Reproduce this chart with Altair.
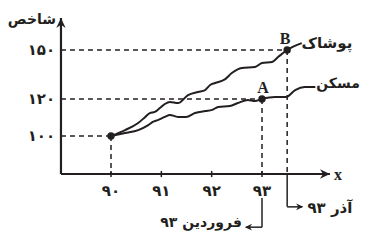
import altair as alt
import pandas as pd

# ---- scale anchors (data value -> position inside the chart) ----
X_DOMAIN = [90, 93]
X_RANGE = [103, 254]
Y_DOMAIN = [50, 80, 100, 120, 150, 170]
Y_RANGE = [224, 166, 128, 91, 42, 10]

INK = "#231f20"
FA_FONT = "DejaVu Sans"
LAT_FONT = "Liberation Serif"

# ---- series ----
clothing_x = [90.00, 90.28, 90.54, 90.68, 90.77, 90.87, 90.97, 91.07, 91.17, 91.33,
              91.53, 91.73, 91.87, 91.97, 92.07, 92.27, 92.40, 92.60, 92.86, 93.00,
              93.20, 93.32, 93.50, 93.79]
clothing_y = [100.0, 103.2, 107.0, 110.3, 112.4, 113.0, 115.1, 117.3, 118.4, 117.8,
              122.4, 124.3, 125.5, 128.6, 129.8, 132.2, 135.9, 139.0, 139.6, 142.0,
              142.7, 145.7, 150.0, 154.3]

housing_x = [90.00, 90.28, 90.54, 90.74, 90.83, 90.93, 91.07, 91.17, 91.33, 91.49,
             91.67, 91.87, 92.01, 92.13, 92.36, 92.52, 92.72, 92.86, 93.00, 93.26,
             93.48, 93.66, 93.85, 94.06]
housing_y = [100.0, 101.6, 103.2, 105.9, 107.6, 108.6, 110.3, 111.4, 110.3, 110.3,
             112.4, 113.5, 114.1, 115.7, 116.2, 117.8, 119.5, 118.9, 120.0, 121.2,
             121.2, 125.5, 127.3, 127.3]

x_ticks = [90, 91, 92, 93]
x_tick_labels = ["۹۰", "۹۱", "۹۲", "۹۳"]
y_ticks = [100, 120, 150]
y_tick_labels = ["۱۰۰", "۱۲۰", "۱۵۰"]

dot_x = [90, 93, 93.5]
dot_y = [100, 120, 150]

# axis extents
X_LEFT, X_RIGHT = 89.006, 94.35
Y_BASE, Y_TOP = 80, 170

xs = alt.Scale(domain=X_DOMAIN, range=X_RANGE, nice=False, zero=False)
ys = alt.Scale(domain=Y_DOMAIN, range=Y_RANGE, nice=False, zero=False)


def X(f="x"):
    return alt.X(f"{f}:Q", scale=xs, axis=None)


def Y(f="y"):
    return alt.Y(f"{f}:Q", scale=ys, axis=None)


# curves
curve_df = pd.DataFrame(
    [{"s": "c", "i": i, "x": a, "y": b} for i, (a, b) in enumerate(zip(clothing_x, clothing_y))]
    + [{"s": "h", "i": i, "x": a, "y": b} for i, (a, b) in enumerate(zip(housing_x, housing_y))]
)
curves = alt.Chart(curve_df).mark_line(
    interpolate="monotone", strokeWidth=2, color=INK
).encode(x=X(), y=Y(), detail="s:N", order="i:Q")

# dashed guide lines
dash_df = pd.DataFrame({
    "x": [X_LEFT, X_LEFT, X_LEFT, 90, 93, 93.5],
    "x2": [93.5, 93, 90, 90, 93, 93.5],
    "y": [150, 120, 100, 100, 120, 150],
    "y2": [150, 120, 100, Y_BASE, Y_BASE, Y_BASE],
})
dashes = alt.Chart(dash_df).mark_rule(
    strokeDash=[5, 4], strokeWidth=1.5, color=INK
).encode(x=X(), x2="x2:Q", y=Y(), y2="y2:Q")

# solid lines: axes and callout leaders
solid_df = pd.DataFrame({
    "x": [X_LEFT, X_LEFT, 93.5, 93.5, 93, 93],
    "x2": [X_RIGHT, X_LEFT, 93.5, 93.80, 93, 92.68],
    "y": [Y_BASE, Y_BASE, Y_BASE, 63, 67.6, 52.5],
    "y2": [Y_BASE, Y_TOP, 63, 63, 52.5, 52.5],
    "w": [2.2, 2.2, 1.5, 1.5, 1.5, 1.5],
})
solids = alt.Chart(solid_df).mark_rule(color=INK).encode(
    x=X(), x2="x2:Q", y=Y(), y2="y2:Q",
    strokeWidth=alt.StrokeWidth("w:Q", scale=None),
)

# x tick marks
tick_df = pd.DataFrame({"x": x_ticks, "y": [81.6] * 4, "y2": [78.4] * 4})
ticks = alt.Chart(tick_df).mark_rule(color=INK, strokeWidth=1.5).encode(
    x=X(), y=Y(), y2="y2:Q"
)

# arrow heads
ARROW = "M0,0 L-1.6,-0.75 L-1.1,0 L-1.6,0.75 Z"
arrow_df = pd.DataFrame({
    "x": [X_RIGHT, X_LEFT, 93.82, 92.66],
    "y": [Y_BASE, Y_TOP, 63, 52.5],
    "a": [0, 270, 0, 180],
    "sz": [156, 156, 80, 80],
})
arrows = alt.Chart(arrow_df).mark_point(
    shape=ARROW, filled=True, color=INK, opacity=1, strokeWidth=0
).encode(
    x=X(), y=Y(),
    angle=alt.Angle("a:Q", scale=None),
    size=alt.Size("sz:Q", scale=None),
)

# dots
dot_df = pd.DataFrame({"x": dot_x, "y": dot_y})
dots = alt.Chart(dot_df).mark_point(
    filled=True, color=INK, size=55, opacity=1
).encode(x=X(), y=Y())

# tick labels
xl_df = pd.DataFrame({"x": x_ticks, "y": [71.2] * 4, "t": x_tick_labels})
xlabels = alt.Chart(xl_df).mark_text(
    font=FA_FONT, fontSize=15, fontWeight="bold", color=INK, baseline="middle"
).encode(x=X(), y=Y(), text="t:N")

yl_df = pd.DataFrame({"x": [88.89] * 3, "y": y_ticks, "t": y_tick_labels})
ylabels = alt.Chart(yl_df).mark_text(
    font=FA_FONT, fontSize=15, fontWeight="bold", color=INK, baseline="middle", align="right"
).encode(x=X(), y=Y(), text="t:N")

# Persian annotations
fa_df = pd.DataFrame({
    "x": [88.43, 94.29, 94.51, 94.35, 91.79],
    "y": [168.75, 154.4, 129.2, 62.5, 54.6],
    "t": ["شاخص", "پوشاک", "مسکن", "آذر ۹۳", "فروردین ۹۳"],
    "fs": [14, 15, 14, 15, 14],
})
fa_text = alt.Chart(fa_df).mark_text(
    font=FA_FONT, fontWeight="bold", color=INK, baseline="middle"
).encode(x=X(), y=Y(), text="t:N", size=alt.Size("fs:Q", scale=None))

# Latin annotations
lat_df = pd.DataFrame({
    "x": [93.46, 93.02, 94.51],
    "y": [156.9, 126.7, 79.6],
    "t": ["B", "A", "x"],
})
lat_text = alt.Chart(lat_df).mark_text(
    font=LAT_FONT, fontSize=16, fontWeight="bold", color=INK, baseline="middle"
).encode(x=X(), y=Y(), text="t:N")

chart = alt.layer(
    dashes, solids, ticks, curves, arrows, dots, xlabels, ylabels, fa_text, lat_text
).properties(
    width=353, height=224, autosize=alt.AutoSizeParams(type="none"), padding=0,
    background="white",
).configure_view(stroke=None)

chart.save("out.html", embed_options={"renderer": "svg", "actions": False})
